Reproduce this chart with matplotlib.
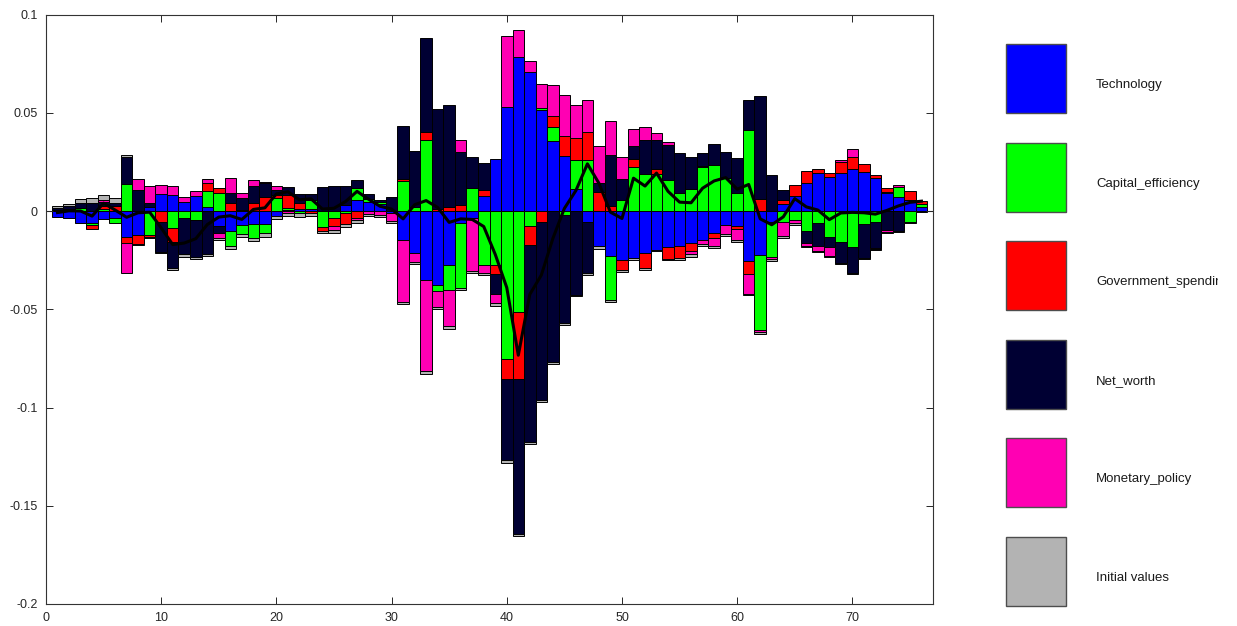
import numpy as np
import matplotlib
matplotlib.use("Agg")
import matplotlib.pyplot as plt
from matplotlib.patches import Rectangle

plt.rcParams['font.family'] = ['Liberation Sans', 'DejaVu Sans']

periods = np.arange(1, 77)

# shock contributions per period
technology = [
    -0.0032, -0.0034, -0.0060, -0.0063, -0.0040, -0.0034, -0.0131, -0.0122, 0.0022, 0.0087,
    0.0081, 0.0048, 0.0077, 0.0022, -0.0077, -0.0102, -0.0073, -0.0066, -0.0066, -0.0026,
    0.0005, 0.0010, 0.0009, 0.0000, 0.0000, 0.0030, 0.0056, 0.0048, 0.0036, -0.0008,
    -0.0148, -0.0213, -0.0352, -0.0379, -0.0277, -0.0060, -0.0037, 0.0074, 0.0263, 0.0530,
    0.0785, 0.0705, 0.0516, 0.0355, 0.0281, 0.0112, -0.0058, -0.0179, -0.0229, -0.0247,
    -0.0241, -0.0213, -0.0196, -0.0182, -0.0179, -0.0165, -0.0148, -0.0110, -0.0073, -0.0077,
    -0.0255, -0.0225, -0.0054, 0.0036, 0.0077, 0.0145, 0.0192, 0.0172, 0.0192, 0.0212,
    0.0200, 0.0167, 0.0090, 0.0070, 0.0056, 0.0019]
capital_efficiency = [
    0.0006, 0.0010, 0.0014, -0.0010, 0.0010, -0.0025, 0.0138, 0.0000, -0.0122, 0.0000,
    -0.0088, -0.0034, -0.0046, 0.0082, 0.0094, -0.0077, -0.0046, -0.0073, -0.0044, 0.0065,
    0.0012, -0.0010, 0.0048, -0.0080, -0.0034, -0.0008, 0.0060, 0.0012, 0.0012, 0.0000,
    0.0155, 0.0019, 0.0359, -0.0029, -0.0126, -0.0330, 0.0116, -0.0275, -0.0277, -0.0751,
    -0.0514, -0.0075, 0.0010, 0.0070, -0.0018, 0.0146, 0.0258, 0.0000, -0.0224, 0.0056,
    0.0226, 0.0187, 0.0189, 0.0158, 0.0094, 0.0111, 0.0223, 0.0235, 0.0167, 0.0090,
    0.0410, -0.0380, -0.0180, -0.0058, -0.0046, -0.0100, -0.0059, -0.0134, -0.0156, -0.0182,
    -0.0068, -0.0058, 0.0006, 0.0054, -0.0056, 0.0017]
government_spending = [
    0.0000, 0.0000, 0.0000, -0.0017, 0.0015, 0.0025, -0.0034, -0.0046, -0.0009, -0.0054,
    -0.0068, 0.0000, 0.0000, 0.0037, 0.0022, 0.0039, 0.0005, 0.0043, 0.0073, 0.0014,
    0.0063, 0.0031, -0.0010, -0.0022, -0.0043, -0.0060, -0.0034, 0.0000, 0.0000, 0.0000,
    0.0007, 0.0000, 0.0041, 0.0009, 0.0022, 0.0031, 0.0000, 0.0035, -0.0044, -0.0105,
    -0.0342, -0.0100, -0.0058, 0.0056, 0.0100, 0.0114, 0.0146, 0.0099, 0.0026, -0.0054,
    0.0037, -0.0077, 0.0024, -0.0061, -0.0060, -0.0039, 0.0007, -0.0026, 0.0000, -0.0017,
    -0.0068, 0.0060, 0.0000, 0.0020, 0.0056, 0.0061, 0.0020, 0.0020, 0.0056, 0.0061,
    0.0037, 0.0017, 0.0020, 0.0000, 0.0048, 0.0017]
net_worth = [
    0.0010, 0.0015, 0.0026, 0.0042, 0.0022, 0.0017, 0.0136, 0.0107, 0.0017, -0.0153,
    -0.0136, -0.0187, -0.0187, -0.0221, -0.0034, 0.0051, 0.0060, 0.0082, 0.0068, 0.0029,
    0.0043, 0.0044, 0.0030, 0.0124, 0.0128, 0.0098, 0.0043, 0.0027, 0.0008, 0.0073,
    0.0272, 0.0284, 0.0481, 0.0510, 0.0519, 0.0269, 0.0158, 0.0137, -0.0100, -0.0412,
    -0.0786, -0.1000, -0.0902, -0.0769, -0.0550, -0.0427, -0.0258, 0.0043, 0.0260, 0.0105,
    0.0068, 0.0175, 0.0150, 0.0179, 0.0201, 0.0163, 0.0065, 0.0105, 0.0131, 0.0179,
    0.0155, 0.0525, 0.0184, 0.0051, 0.0000, -0.0061, -0.0119, -0.0048, -0.0107, -0.0136,
    -0.0170, -0.0128, -0.0097, -0.0102, 0.0000, 0.0000]
monetary_policy = [
    0.0000, 0.0000, 0.0000, 0.0000, 0.0008, 0.0000, -0.0153, 0.0056, 0.0090, 0.0043,
    0.0048, 0.0022, 0.0027, 0.0020, -0.0026, 0.0077, 0.0026, 0.0034, 0.0005, 0.0020,
    -0.0010, 0.0000, 0.0000, 0.0000, -0.0022, 0.0000, -0.0010, -0.0015, -0.0020, -0.0045,
    -0.0314, -0.0046, -0.0462, -0.0080, -0.0184, 0.0060, -0.0267, -0.0040, -0.0049, 0.0360,
    0.0135, 0.0056, 0.0118, 0.0158, 0.0210, 0.0167, 0.0161, 0.0190, 0.0170, 0.0112,
    0.0085, 0.0063, 0.0034, 0.0014, 0.0000, -0.0017, -0.0022, -0.0043, -0.0046, -0.0054,
    -0.0097, -0.0010, -0.0012, -0.0071, -0.0017, -0.0017, -0.0024, -0.0048, 0.0012, 0.0041,
    0.0000, -0.0005, -0.0010, 0.0010, 0.0000, 0.0000]
initial_values = [
    0.0008, 0.0010, 0.0020, 0.0022, 0.0025, 0.0022, 0.0012, -0.0004, -0.0004, -0.0009,
    -0.0008, -0.0012, -0.0012, -0.0009, -0.0010, -0.0012, -0.0015, -0.0012, -0.0020, -0.0015,
    -0.0015, -0.0018, -0.0015, -0.0012, -0.0015, -0.0012, -0.0015, -0.0012, -0.0012, -0.0010,
    -0.0012, -0.0012, -0.0014, -0.0013, -0.0012, -0.0010, -0.0013, -0.0010, -0.0014, -0.0012,
    -0.0012, -0.0010, -0.0010, -0.0010, -0.0010, -0.0008, -0.0009, -0.0012, -0.0009, -0.0010,
    -0.0008, -0.0008, -0.0008, -0.0008, -0.0011, -0.0011, -0.0009, -0.0008, -0.0009, -0.0010,
    -0.0010, -0.0010, -0.0008, -0.0008, -0.0007, -0.0007, -0.0005, -0.0006, -0.0007, -0.0003,
    -0.0008, -0.0009, -0.0006, -0.0006, -0.0004, -0.0003]

shock_names = ['Technology', 'Capital_efficiency', 'Government_spending',
               'Net_worth', 'Monetary_policy', 'Initial values']
shock_colors = [(0, 0, 1), (0, 1, 0), (1, 0, 0), (0, 0, 0.2), (1, 0, 0.7), (0.7, 0.7, 0.7)]

contrib = np.array([technology, capital_efficiency, government_spending,
                    net_worth, monetary_policy, initial_values])
total = contrib.sum(axis=0)

W, H = 1237, 626
fig = plt.figure(figsize=(W / 100, H / 100), dpi=100)
ax = fig.add_axes([46 / W, 22 / H, (933 - 46) / W, (611.5 - 22) / H])

# positive parts stack upwards, negative parts downwards, in shock order
pos_base = np.zeros(len(periods))
neg_base = np.zeros(len(periods))
for vals, color in zip(contrib, shock_colors):
    pos = np.where(vals > 0, vals, 0.0)
    neg = np.where(vals < 0, vals, 0.0)
    m = pos > 0
    ax.bar(periods[m], pos[m], width=1.0, bottom=pos_base[m], color=color,
           edgecolor='black', linewidth=0.7)
    m = neg < 0
    ax.bar(periods[m], neg[m], width=1.0, bottom=neg_base[m], color=color,
           edgecolor='black', linewidth=0.7)
    pos_base += pos
    neg_base += neg

ax.axhline(0, color='0.35', lw=0.8, zorder=0.5)
ax.plot(periods, total, color='black', lw=2.2)

ax.set_xlim(0, 77)
ax.set_ylim(-0.2, 0.1)
ax.set_xticks(np.arange(0, 71, 10))
yt = [-0.2, -0.15, -0.1, -0.05, 0, 0.05, 0.1]
ax.set_yticks(yt)
ax.set_yticklabels(['-0.2', '-0.15', '-0.1', '-0.05', '0', '0.05', '0.1'])
ax.tick_params(direction='in', top=True, right=True, length=5, width=0.7,
               labelsize=9, colors='0.15', pad=6)
for s in ax.spines.values():
    s.set_color('0.2')
    s.set_linewidth(0.8)

# legend panel on the right, labels cut at its edge
lax = fig.add_axes([1000 / W, 0, 218 / W, 1])
lax.set_xlim(1000, 1218)
lax.set_ylim(H, 0)
lax.axis('off')
for i, (name, color) in enumerate(zip(shock_names, shock_colors)):
    top = 44 + i * 98.6
    lax.add_patch(Rectangle((1006, top), 60, 69, facecolor=color,
                            edgecolor='0.3', linewidth=1.0))
    lax.text(1096, top + 41, name, va='center', ha='left', fontsize=9.5,
             color='0.1', clip_on=True)

fig.savefig('out.png', dpi=100)
